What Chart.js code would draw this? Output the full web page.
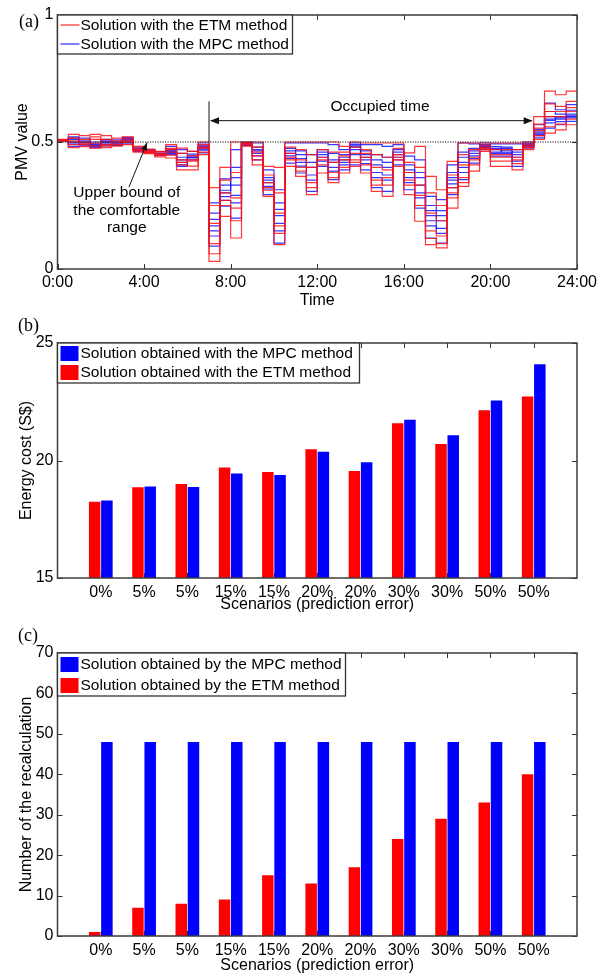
<!DOCTYPE html>
<html>
<head>
<meta charset="utf-8">
<script src="https://cdn.jsdelivr.net/npm/chart.js@4.4.1/dist/chart.umd.min.js"></script>
<style>
html,body{margin:0;padding:0;background:#fff;}
body{width:606px;height:975px;position:relative;overflow:hidden;}
.cv{position:absolute;left:0;width:606px;}
.lab{position:absolute;font-family:'Liberation Serif','Times New Roman',serif;font-size:18px;line-height:20px;color:#000;}
</style>
</head>
<body>
<div class="cv" style="top:0;height:312px"><canvas id="ca" width="606" height="312"></canvas></div>
<div class="cv" style="top:312px;height:302px"><canvas id="cb" width="606" height="302"></canvas></div>
<div class="cv" style="top:614px;height:361px"><canvas id="cc" width="606" height="361"></canvas></div>
<div class="lab" style="left:19px;top:11px">(a)</div>
<div class="lab" style="left:18px;top:315px">(b)</div>
<div class="lab" style="left:18px;top:625px">(c)</div>
<script>
// ---------------- Panel (a): PMV value over the day (30-min steps) ----------------
const halfHourStarts = [0,0.5,1,1.5,2,2.5,3,3.5,4,4.5,5,5.5,6,6.5,7,7.5,8,8.5,9,9.5,10,10.5,11,11.5,
  12,12.5,13,13.5,14,14.5,15,15.5,16,16.5,17,17.5,18,18.5,19,19.5,20,20.5,21,21.5,22,22.5,23,23.5];
const DAY_END = 24;
const timeTickLabels = ['0:00','4:00','8:00','12:00','16:00','20:00','24:00'];

// ETM method scenarios (red)
const etm1 = [.51,.53,.525,.53,.525,.515,.52,.483,.472,.463,.49,.476,.463,.50,.32,.40,.50,.50,.50,.404,.40,.50,.50,.50,
  .50,.50,.483,.50,.496,.496,.496,.496,.457,.483,.365,.312,.424,.496,.496,.496,.496,.496,.496,.50,.60,.70,.686,.70];
const etm2 = [.508,.515,.51,.51,.51,.505,.512,.476,.466,.456,.475,.455,.445,.49,.25,.35,.38,.497,.48,.37,.30,.48,.47,.45,
  .47,.46,.46,.48,.47,.45,.44,.475,.42,.40,.30,.25,.37,.45,.47,.488,.47,.47,.47,.492,.57,.65,.64,.66];
const etm3 = [.506,.50,.50,.495,.50,.497,.505,.47,.462,.45,.46,.43,.425,.475,.18,.30,.28,.493,.46,.34,.22,.455,.43,.40,
  .44,.42,.43,.455,.44,.40,.39,.45,.38,.33,.22,.19,.32,.41,.44,.48,.45,.45,.44,.485,.545,.60,.60,.62];
const etm4 = [.505,.49,.49,.485,.49,.49,.498,.465,.458,.446,.448,.41,.405,.46,.10,.25,.19,.489,.43,.31,.14,.43,.40,.34,
  .41,.38,.40,.43,.41,.35,.33,.43,.33,.25,.15,.13,.28,.36,.41,.47,.425,.425,.415,.478,.525,.56,.57,.59];
const etm5 = [.503,.478,.482,.476,.478,.484,.49,.46,.454,.441,.437,.39,.39,.45,.03,.207,.122,.484,.41,.286,.096,.404,.365,.293,
  .378,.34,.378,.404,.378,.306,.286,.404,.293,.188,.096,.083,.24,.325,.385,.463,.404,.404,.39,.47,.51,.535,.548,.568];
const etm6 = [.507,.505,.495,.52,.485,.50,.502,.468,.46,.452,.47,.42,.43,.48,.06,.27,.24,.495,.445,.32,.17,.44,.385,.32,
  .43,.36,.445,.42,.455,.33,.36,.44,.35,.29,.12,.10,.30,.34,.43,.475,.44,.44,.43,.48,.555,.62,.62,.635];

// MPC method scenarios (blue)
const mpc1 = [.509,.52,.515,.50,.51,.508,.518,.48,.47,.462,.483,.47,.463,.496,.26,.355,.47,.50,.496,.39,.312,.496,.496,.496,
  .496,.49,.47,.496,.49,.49,.483,.49,.444,.43,.286,.273,.41,.496,.493,.496,.493,.493,.493,.50,.568,.653,.627,.647];
const mpc2 = [.507,.51,.505,.495,.502,.50,.51,.474,.465,.456,.472,.455,.452,.488,.22,.33,.40,.497,.48,.36,.26,.475,.465,.45,
  .47,.455,.45,.49,.465,.45,.44,.47,.41,.38,.25,.23,.38,.46,.475,.49,.482,.48,.47,.494,.55,.62,.61,.625];
const mpc3 = [.506,.50,.498,.49,.495,.495,.505,.47,.462,.452,.462,.44,.445,.478,.17,.30,.33,.494,.465,.34,.21,.455,.435,.40,
  .45,.42,.43,.48,.44,.41,.40,.45,.38,.33,.21,.19,.35,.42,.455,.483,.47,.468,.45,.488,.535,.60,.595,.61];
const mpc4 = [.505,.492,.49,.483,.49,.49,.50,.467,.46,.449,.455,.42,.437,.468,.13,.27,.26,.49,.445,.315,.15,.435,.405,.35,
  .425,.385,.41,.45,.415,.36,.35,.43,.34,.28,.17,.14,.32,.38,.435,.476,.455,.455,.425,.482,.525,.575,.58,.595];
const mpc5 = [.504,.483,.485,.478,.485,.487,.493,.463,.457,.446,.45,.404,.43,.457,.09,.247,.20,.486,.43,.293,.102,.417,.378,.306,
  .404,.352,.39,.41,.39,.32,.306,.41,.312,.24,.122,.102,.293,.352,.417,.47,.444,.444,.404,.476,.516,.555,.568,.581];
const mpc6 = [.506,.515,.50,.488,.505,.492,.514,.472,.463,.454,.466,.43,.44,.483,.195,.31,.36,.495,.455,.35,.18,.445,.42,.37,
  .44,.40,.44,.485,.43,.38,.37,.44,.36,.30,.19,.16,.36,.40,.445,.479,.46,.475,.44,.49,.54,.59,.60,.60];
const mpc7 = [.505,.497,.492,.486,.498,.50,.508,.469,.461,.45,.458,.41,.44,.472,.15,.285,.29,.492,.47,.325,.235,.465,.45,.42,
  .46,.43,.42,.47,.45,.43,.42,.46,.39,.36,.23,.21,.335,.44,.465,.486,.475,.46,.46,.485,.53,.585,.59,.603];

const COMFORT_UPPER = 0.5;   // upper bound of comfortable range
const OCC_START = 7, OCC_END = 22;

// ---------------- Panels (b) and (c) ----------------
const scenarioLabels = ['0%','5%','5%','15%','15%','20%','20%','30%','30%','50%','50%'];
const costETM = [18.25,18.86,19.00,19.70,19.51,20.48,19.55,21.58,20.70,22.14,22.72];
const costMPC = [18.30,18.89,18.87,19.45,19.38,20.37,19.93,21.73,21.07,22.55,24.10];
const recalcETM = [1,7,8,9,15,13,17,24,29,33,40];
const recalcMPC = [48,48,48,48,48,48,48,48,48,48,48];

// ---------------- styling / helpers ----------------
const FONT = "'Liberation Sans', Arial, Helvetica, sans-serif";
Chart.defaults.font.family = FONT;
Chart.defaults.font.size = 16;
Chart.defaults.color = '#000';
Chart.defaults.animation = false;

const RED_LINE = 'rgba(255,20,20,0.85)';
const BLUE_LINE = 'rgba(20,20,255,0.85)';
const TICK_LEN = 5;

function stepPoints(vals){
  const pts = vals.map((v,i)=>({x: halfHourStarts[i], y: v}));
  pts.push({x: DAY_END, y: vals[vals.length-1]});
  return pts;
}
const pad = arr => [null, ...arr, null];

function arrowHead(ctx, x, y, dx, dy, len, hw){
  const n = Math.hypot(dx,dy); dx/=n; dy/=n;
  const bx = x - dx*len, by = y - dy*len;
  ctx.beginPath();
  ctx.moveTo(x,y);
  ctx.lineTo(bx - dy*hw, by + dx*hw);
  ctx.lineTo(bx + dy*hw, by - dx*hw);
  ctx.closePath(); ctx.fill();
}

const mlPlugin = {
  id: 'ml',
  beforeDatasetsDraw(chart, args, o){
    const {ctx, chartArea:a, scales} = chart;
    const x = scales.x, y = scales.y;
    ctx.save();
    ctx.strokeStyle = '#333'; ctx.lineWidth = 1;
    ctx.beginPath();
    const xt = o.xTickValues || x.ticks.map(t=>t.value);
    xt.forEach(v=>{
      const p = Math.round(x.getPixelForValue(v)) + 0.5;
      ctx.moveTo(p, a.bottom); ctx.lineTo(p, a.bottom - TICK_LEN);
      ctx.moveTo(p, a.top); ctx.lineTo(p, a.top + TICK_LEN);
    });
    y.ticks.forEach(t=>{
      const p = Math.round(y.getPixelForValue(t.value)) + 0.5;
      ctx.moveTo(a.left, p); ctx.lineTo(a.left + TICK_LEN, p);
      ctx.moveTo(a.right, p); ctx.lineTo(a.right - TICK_LEN, p);
    });
    ctx.stroke();
    ctx.restore();
  },
  afterDatasetsDraw(chart, args, o){
    const {ctx, chartArea:a} = chart;
    if (o.annotate) o.annotate(chart);
    ctx.save();
    ctx.strokeStyle = '#3c3c3c'; ctx.lineWidth = 1.5;
    ctx.strokeRect(a.left, a.top, a.right - a.left, a.bottom - a.top);
    const L = o.legend;
    if (L){
      const x0 = a.left, y0 = a.top;
      ctx.fillStyle = '#fff'; ctx.fillRect(x0, y0, L.w, L.h);
      ctx.strokeStyle = '#333'; ctx.lineWidth = 1.3; ctx.strokeRect(x0, y0, L.w, L.h);
      ctx.font = L.font; ctx.textBaseline = 'middle'; ctx.textAlign = 'left';
      L.order.forEach((di,i)=>{
        const ds = chart.data.datasets[di];
        const cy = y0 + L.rows[i];
        if (L.kind === 'line'){
          ctx.strokeStyle = ds.borderColor; ctx.lineWidth = 1.3;
          ctx.beginPath(); ctx.moveTo(x0+3, cy); ctx.lineTo(x0+22, cy); ctx.stroke();
        } else {
          ctx.fillStyle = ds.backgroundColor; ctx.fillRect(x0+3, cy-7, 18, 15);
        }
        ctx.fillStyle = '#000';
        ctx.fillText(ds.label, x0+23, cy+1);
      });
    }
    ctx.restore();
  }
};

function annotateA(chart){
  const {ctx, scales:{x,y}, chartArea:a} = chart;
  ctx.save();
  ctx.strokeStyle = '#111'; ctx.fillStyle = '#111'; ctx.lineWidth = 1;
  const yb = y.getPixelForValue(COMFORT_UPPER);
  ctx.setLineDash([1.2,1.3]);
  ctx.beginPath(); ctx.moveTo(a.left, yb); ctx.lineTo(a.right, yb); ctx.stroke();
  ctx.setLineDash([]);
  const xs = x.getPixelForValue(OCC_START), xe = x.getPixelForValue(OCC_END);
  const ya = y.getPixelForValue(0.584);
  ctx.beginPath(); ctx.moveTo(xs, yb); ctx.lineTo(xs, y.getPixelForValue(0.66)); ctx.stroke();
  ctx.beginPath(); ctx.moveTo(xs+2, ya); ctx.lineTo(xe-2, ya); ctx.stroke();
  arrowHead(ctx, xs+1, ya, -1, 0, 9, 3.5);
  arrowHead(ctx, xe-1, ya, 1, 0, 9, 3.5);
  const ax0 = x.getPixelForValue(3.3), ay0 = y.getPixelForValue(0.322);
  const ax1 = x.getPixelForValue(4.14), ay1 = y.getPixelForValue(0.498);
  ctx.beginPath(); ctx.moveTo(ax0, ay0); ctx.lineTo(ax1, ay1); ctx.stroke();
  arrowHead(ctx, ax1, ay1, ax1-ax0, ay1-ay0, 8, 3);
  ctx.fillStyle = '#000';
  ctx.font = '15.5px ' + FONT; ctx.textAlign = 'center'; ctx.textBaseline = 'middle';
  ctx.fillText('Occupied time', x.getPixelForValue(14.9), y.getPixelForValue(0.637));
  const cx = x.getPixelForValue(3.2);
  ctx.fillText('Upper bound of', cx, y.getPixelForValue(0.299));
  ctx.fillText('the comfortable', cx, y.getPixelForValue(0.231));
  ctx.fillText('range', cx, y.getPixelForValue(0.161));
  ctx.restore();
}

// ---------------- Chart (a) ----------------
const etmSeries = [etm1, etm2, etm3, etm4, etm5, etm6];
const mpcSeries = [mpc1, mpc2, mpc3, mpc4, mpc5, mpc6, mpc7];
const dsA = [];
etmSeries.forEach(s=>dsA.push({label:'Solution with the ETM method', data:stepPoints(s), borderColor:RED_LINE,
  borderWidth:1.2, pointRadius:0, stepped:true, fill:false}));
mpcSeries.forEach(s=>dsA.push({label:'Solution with the MPC method', data:stepPoints(s), borderColor:BLUE_LINE,
  borderWidth:1.2, pointRadius:0, stepped:true, fill:false}));

new Chart(document.getElementById('ca'), {
  type:'line',
  data:{datasets: dsA},
  plugins:[mlPlugin],
  options:{
    responsive:false, devicePixelRatio:1, events:[],
    layout:{padding:{top:15, right:29, left:0, bottom:0}},
    plugins:{legend:{display:false}, tooltip:{enabled:false},
      ml:{annotate: annotateA,
          legend:{w:235, h:39, rows:[10,29], order:[0, etmSeries.length], kind:'line', font:'15.5px '+FONT}}},
    scales:{
      x:{type:'linear', min:0, max:DAY_END,
         grid:{display:false, drawTicks:false}, border:{display:false},
         ticks:{stepSize:4, padding:4, maxRotation:0, autoSkip:false,
                callback:(v)=>timeTickLabels[v/4]},
         title:{display:true, text:'Time', padding:{top:0,bottom:2}},
         afterFit:(s)=>{s.height = 43;}},
      y:{min:0, max:1,
         grid:{display:false, drawTicks:false}, border:{display:false},
         ticks:{stepSize:0.5, padding:4, callback:(v)=>String(v)},
         title:{display:true, text:'PMV value', padding:{top:13,bottom:0}},
         afterFit:(s)=>{s.width = 57.5;}}
    }
  }
});

// ---------------- Chart (b) ----------------
const catX = {type:'category', offset:false,
  grid:{display:false, drawTicks:false}, border:{display:false},
  ticks:{autoSkip:false, maxRotation:0, padding:5},
  title:{display:true, text:'Scenarios (prediction error)', padding:{top:0,bottom:0}}};
const catTicks = scenarioLabels.map((c,i)=>i+1);

new Chart(document.getElementById('cb'), {
  type:'bar',
  data:{labels:['', ...scenarioLabels, ''],
    datasets:[
      {label:'Solution obtained with the ETM method', data:pad(costETM), backgroundColor:'#ff0000', borderWidth:0},
      {label:'Solution obtained with the MPC method', data:pad(costMPC), backgroundColor:'#0000ff', borderWidth:0}
    ]},
  plugins:[mlPlugin],
  options:{
    responsive:false, devicePixelRatio:1, events:[],
    categoryPercentage:0.565, barPercentage:0.94,
    layout:{padding:{top:31, right:29, left:0, bottom:0}},
    plugins:{legend:{display:false}, tooltip:{enabled:false},
      ml:{xTickValues:catTicks,
          legend:{w:302, h:40, rows:[10,29], order:[1,0], kind:'box', font:'15.5px '+FONT}}},
    scales:{
      x:Object.assign({}, catX, {afterFit:(s)=>{s.height = 36;}}),
      y:{min:15, max:25,
         grid:{display:false, drawTicks:false}, border:{display:false},
         ticks:{stepSize:5, padding:4},
         title:{display:true, text:'Energy cost (S$)', padding:{top:17,bottom:0}},
         afterFit:(s)=>{s.width = 57.5;}}
    }
  }
});

// ---------------- Chart (c) ----------------
new Chart(document.getElementById('cc'), {
  type:'bar',
  data:{labels:['', ...scenarioLabels, ''],
    datasets:[
      {label:'Solution obtained by the ETM method', data:pad(recalcETM), backgroundColor:'#ff0000', borderWidth:0},
      {label:'Solution obtained by the MPC method', data:pad(recalcMPC), backgroundColor:'#0000ff', borderWidth:0}
    ]},
  plugins:[mlPlugin],
  options:{
    responsive:false, devicePixelRatio:1, events:[],
    categoryPercentage:0.565, barPercentage:0.94,
    layout:{padding:{top:39, right:29, left:0, bottom:0}},
    plugins:{legend:{display:false}, tooltip:{enabled:false},
      ml:{xTickValues:catTicks,
          legend:{w:288, h:43, rows:[11,32], order:[1,0], kind:'box', font:'15.5px '+FONT}}},
    scales:{
      x:Object.assign({}, catX, {afterFit:(s)=>{s.height = 39;}}),
      y:{min:0, max:70,
         grid:{display:false, drawTicks:false}, border:{display:false},
         ticks:{stepSize:10, padding:4},
         title:{display:true, text:'Number of the recalculation', padding:{top:17,bottom:0}},
         afterFit:(s)=>{s.width = 57.5;}}
    }
  }
});
</script>
</body>
</html>
